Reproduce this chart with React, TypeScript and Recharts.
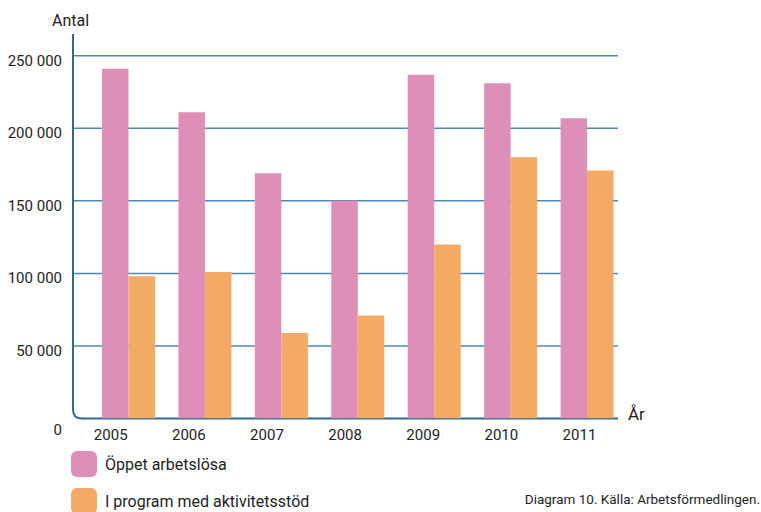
import * as RC from 'recharts';
import { Bar, BarChart, CartesianGrid, XAxis, YAxis } from 'recharts';

const years = ['2005', '2006', '2007', '2008', '2009', '2010', '2011'];
const openUnemployed = [241000, 211000, 169000, 150000, 237000, 231000, 207000];
const programActivity = [98000, 101000, 59000, 71000, 120000, 180000, 171000];
const yTicks = [0, 50000, 100000, 150000, 200000, 250000];

const seriesNames = ['Öppet arbetslösa', 'I program med aktivitetsstöd'];
const PINK = '#dd8fb7';
const ORANGE = '#f2aa64';
const AXIS = '#2d6a8b';
const GRID = '#5089ad';
const FONT = 'Roboto, "Noto Sans", sans-serif';
const TEXT = '#1e1e1e';

const data = years.map((year, i) => ({
  year,
  open: openUnemployed[i],
  program: programActivity[i],
}));

const usePlotArea: any = (RC as any).usePlotArea;
const hasPlotArea = typeof usePlotArea === 'function';

const fmt = (v: number) => String(v).replace(/\B(?=(\d{3})+(?!\d))/g, ' ');

// left + bottom axis drawn as one path so the corner can be rounded
function AxisCorner() {
  const area = usePlotArea();
  if (!area) return null;
  const { x, y, width, height } = area;
  const r = 9;
  const b = y + height;
  return (
    <path
      d={`M${x},${y} L${x},${b - r} Q${x},${b} ${x + r},${b} L${x + width},${b}`}
      fill="none"
      stroke={AXIS}
      strokeWidth={2}
    />
  );
}

const YTick = ({ x, y, payload }: any) => (
  <text
    x={x}
    y={y + (payload.value === 0 ? 11 : 5)}
    textAnchor="end"
    dominantBaseline="central"
    fill={TEXT}
    fontSize={15}
    fontFamily={FONT}
  >
    {fmt(payload.value)}
  </text>
);

// year labels in the original sit a little left of the bar pairs
const XTick = ({ x, y, payload, index }: any) => (
  <text
    x={x - 17.5 + 1.7 * (index ?? 0)}
    y={y + 14}
    textAnchor="middle"
    dominantBaseline="central"
    fill={TEXT}
    fontSize={15}
    fontFamily={FONT}
  >
    {payload.value}
  </text>
);

export default function App() {
  return (
    <div style={{ position: 'relative', width: 761, height: 512, background: '#fff', fontFamily: FONT }}>
      <style>{`body{margin:0}`}</style>
      <BarChart
        width={761}
        height={512}
        data={data}
        margin={{ top: 34, right: 143, left: 0, bottom: 63.5 }}
        barGap={0}
        barSize={26.5}
      >
        <CartesianGrid
          horizontal
          vertical={false}
          horizontalValues={yTicks.filter((v) => v > 0)}
          stroke={GRID}
          strokeWidth={1.5}
        />
        <XAxis
          dataKey="year"
          height={30}
          padding={{ left: 17, right: -7 }}
          axisLine={hasPlotArea ? false : { stroke: AXIS, strokeWidth: 2 }}
          tickLine={false}
          tickSize={0}
          tick={<XTick />}
          interval={0}
        />
        <YAxis
          width={73}
          domain={[0, 265000]}
          ticks={yTicks}
          allowDataOverflow
          axisLine={hasPlotArea ? false : { stroke: AXIS, strokeWidth: 2 }}
          tickLine={false}
          tickSize={0}
          tickMargin={11}
          tick={<YTick />}
        />
        <Bar dataKey="open" name={seriesNames[0]} fill={PINK} isAnimationActive={false} />
        <Bar dataKey="program" name={seriesNames[1]} fill={ORANGE} isAnimationActive={false} />
        {hasPlotArea && <AxisCorner />}
      </BarChart>

      <div style={{ position: 'absolute', left: 52, top: 11, fontSize: 16, color: TEXT }}>Antal</div>
      <div style={{ position: 'absolute', left: 628, top: 404, fontSize: 17, color: TEXT }}>År</div>

      <div style={{ position: 'absolute', left: 71, top: 451, display: 'flex', alignItems: 'center' }}>
        <div style={{ width: 26, height: 26, borderRadius: 6, background: PINK }} />
        <span style={{ marginLeft: 8, fontSize: 16, color: TEXT }}>{seriesNames[0]}</span>
      </div>
      <div style={{ position: 'absolute', left: 71, top: 488, display: 'flex', alignItems: 'center' }}>
        <div style={{ width: 26, height: 26, borderRadius: 6, background: ORANGE }} />
        <span style={{ marginLeft: 8, fontSize: 16, color: TEXT }}>{seriesNames[1]}</span>
      </div>
      <div style={{ position: 'absolute', right: 1, top: 491, fontSize: 13.5, color: TEXT }}>
        Diagram 10. Källa: Arbetsförmedlingen.
      </div>
    </div>
  );
}
